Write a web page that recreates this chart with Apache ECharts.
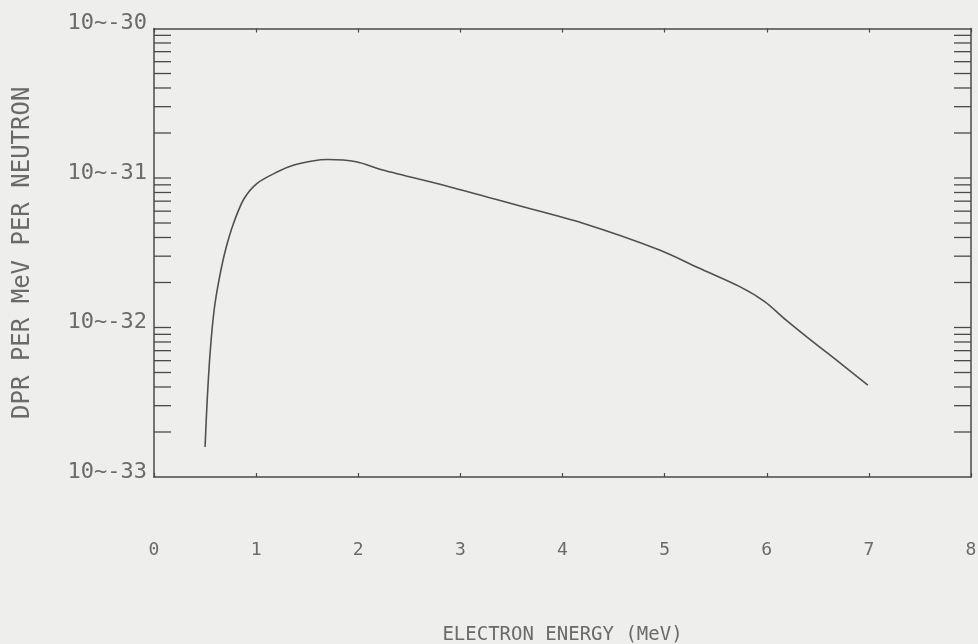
<!DOCTYPE html>
<html>
<head>
<meta charset="utf-8">
<script src="https://cdn.jsdelivr.net/npm/echarts@6/dist/echarts.min.js"></script>
<style>
html,body{margin:0;padding:0;background:#eeeeec;}
#c{width:978px;height:644px;}
</style>
</head>
<body>
<div id="c"></div>
<script>
// Data
var energy = [0.50, 0.52, 0.55, 0.59, 0.64, 0.70, 0.78, 0.88, 1.01, 1.21, 1.37, 1.55, 1.70, 1.98, 2.24, 2.89, 3.55, 4.20, 4.95, 5.34, 5.74, 5.98, 6.19, 6.45, 6.68, 6.99];
var dpa = [1.59e-33, 3.18e-33, 6.86e-33, 1.33e-32, 2.14e-32, 3.30e-32, 5.00e-32, 7.24e-32, 9.22e-32, 1.10e-31, 1.22e-31, 1.30e-31, 1.33e-31, 1.285e-31, 1.13e-31, 8.75e-32, 6.59e-32, 4.98e-32, 3.30e-32, 2.49e-32, 1.87e-32, 1.49e-32, 1.12e-32, 8.04e-33, 6.07e-33, 4.12e-33];
var xTicks = [0, 1, 2, 3, 4, 5, 6, 7, 8];
var yDecades = [-33, -32, -31, -30];
var yTickLabels = ['10~-33', '10~-32', '10~-31', '10~-30'];
var yMantissas = [1, 2, 3, 4, 5, 6, 7, 8, 9];

var yTickValues = [];
yDecades.forEach(function (d) {
  if (d === -30) return;
  yMantissas.forEach(function (m) {
    if (d === -33 && m === 1) return;
    yTickValues.push(Number(m + 'e' + d));
  });
});
var yDecadeValues = yDecades.map(function (d) { return Number('1e' + d); });

var ink = '#4a4a4a';
var txt = '#6a6a6a';
var font = 'DejaVu Sans Mono';
var xMin = 0, xMax = 8;

var chart = echarts.init(document.getElementById('c'), null, {renderer: 'canvas'});
var data = energy.map(function (x, i) { return [x, dpa[i]]; });

chart.setOption({
  backgroundColor: '#eeeeec',
  animation: false,
  grid: {left: 154, right: 7, top: 28.5, bottom: 167, containLabel: false, outerBoundsMode: 'none'},
  xAxis: [{
    type: 'value', min: xMin, max: xMax, interval: 1, position: 'bottom',
    name: 'ELECTRON ENERGY (MeV)', nameLocation: 'middle', nameGap: 149, nameMoveOverlap: false,
    nameTextStyle: {color: txt, fontFamily: font, fontSize: 19},
    axisLine: {show: true, onZero: false, lineStyle: {color: ink, width: 1.5}},
    axisTick: {show: true, inside: true, length: 4, lineStyle: {color: ink, width: 1.2}},
    axisLabel: {show: true, margin: 64, color: txt, fontFamily: font, fontSize: 18,
      showMinLabel: true, showMaxLabel: true,
      formatter: function (v) { return String(xTicks[Math.round(v)]); }},
    splitLine: {show: false}
  }, {
    type: 'value', min: xMin, max: xMax, interval: 1, position: 'top',
    axisLine: {show: true, onZero: false, lineStyle: {color: ink, width: 1.5}},
    axisTick: {show: true, inside: true, length: 4, lineStyle: {color: ink, width: 1.2}},
    axisLabel: {show: false},
    splitLine: {show: false}
  }],
  yAxis: [{
    type: 'log', logBase: 10, min: 1e-33, max: 1e-30, position: 'left',
    name: 'DPR PER MeV PER NEUTRON', nameLocation: 'middle', nameGap: 119, nameRotate: 90, nameMoveOverlap: false,
    nameTextStyle: {color: txt, fontFamily: font, fontSize: 24},
    axisLine: {show: true, onZero: false, lineStyle: {color: ink, width: 1.5}},
    axisTick: {show: false},
    axisLabel: {show: false},
    splitLine: {show: false},
    minorTick: {show: false}
  }, {
    type: 'log', logBase: 10, min: 1e-33, max: 1e-30, position: 'right',
    axisLine: {show: true, onZero: false, lineStyle: {color: ink, width: 1.5}},
    axisTick: {show: false},
    axisLabel: {show: false},
    splitLine: {show: false}
  }],
  series: [{
    type: 'custom',
    name: 'yticks',
    xAxisIndex: 0, yAxisIndex: 0,
    data: yTickValues.map(function (v) { return [xMin, v]; }),
    clip: false,
    silent: true,
    renderItem: function (params, api) {
      var v = api.value(1);
      var pl = api.coord([xMin, v]);
      var pr = api.coord([xMax, v]);
      var style = {stroke: ink, lineWidth: 1.3};
      return {
        type: 'group',
        children: [
          {type: 'line', shape: {x1: pl[0], y1: pl[1], x2: pl[0] + 17, y2: pl[1]}, style: style},
          {type: 'line', shape: {x1: pr[0], y1: pr[1], x2: pr[0] - 17, y2: pr[1]}, style: style}
        ]
      };
    },
    z: 3
  }, {
    type: 'custom',
    name: 'ylabels',
    xAxisIndex: 0, yAxisIndex: 0,
    data: yDecadeValues.map(function (v, i) { return [xMin, v, i]; }),
    clip: false,
    silent: true,
    renderItem: function (params, api) {
      var v = api.value(1);
      var i = api.value(2);
      var p = api.coord([xMin, v]);
      return {
        type: 'text',
        x: p[0] - 7,
        y: p[1] - 5,
        style: {
          text: yTickLabels[i],
          fill: txt,
          font: '22px "DejaVu Sans Mono"',
          align: 'right',
          verticalAlign: 'middle'
        }
      };
    },
    z: 4
  }, {
    type: 'line',
    data: data,
    xAxisIndex: 0, yAxisIndex: 0,
    showSymbol: false, symbol: 'none',
    smooth: 0.3,
    lineStyle: {color: '#505050', width: 1.6},
    z: 5
  }]
});
</script>
</body>
</html>
